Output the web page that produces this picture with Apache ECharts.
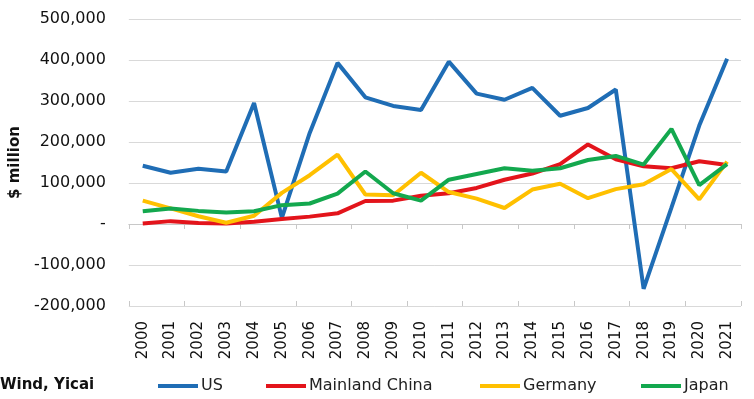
<!DOCTYPE html>
<html>
<head>
<meta charset="utf-8">
<script src="https://cdn.jsdelivr.net/npm/echarts@6/dist/echarts.min.js"></script>
<style>
  html, body { margin: 0; padding: 0; background: #fff; }
  #chart { width: 754px; height: 399px; }
</style>
</head>
<body>
<div id="chart"></div>
<script>
var years = ['2000', '2001', '2002', '2003', '2004', '2005', '2006', '2007', '2008', '2009', '2010',
    '2011', '2012', '2013', '2014', '2015', '2016', '2017', '2018', '2019', '2020', '2021'];

var usData = [142000, 125000, 135000, 128000, 295000, 15000, 222000, 393000, 309000, 288000, 278000,
    396000, 318000, 303000, 332000, 264000, 283000, 328000, -158000, 40000, 240000, 403000];
var chinaData = [1000, 7000, 2500, 1000, 5500, 12000, 18000, 26000, 56000, 57000, 69000,
    75000, 88000, 108000, 123000, 146000, 194000, 158000, 141000, 136000, 153000, 144000];
var germanyData = [57000, 38000, 19000, 3000, 20000, 76000, 119000, 169000, 72000, 70000, 125000,
    78000, 62000, 39000, 84000, 98000, 63000, 85000, 97000, 134000, 60000, 152000];
var japanData = [31000, 38000, 32000, 28000, 31000, 46000, 50000, 74000, 128000, 75000, 57000,
    108000, 122000, 136000, 130000, 136000, 156000, 166000, 145000, 232000, 95000, 146000];

var seriesNames = ['US', 'Mainland China', 'Germany', 'Japan'];
var seriesColors = ['#1f6db5', '#e3141b', '#ffc000', '#13a84e'];

var chart = echarts.init(document.getElementById('chart'));

var FONT = 'DejaVu Sans';

function lineSeries(name, data, color) {
    return {
        name: name,
        type: 'line',
        data: data,
        xAxisIndex: 0,
        symbol: 'none',
        smooth: false,
        lineStyle: { width: 4, color: color },
        itemStyle: { color: color },
        z: 3
    };
}

function legendAt(name, left) {
    return {
        data: [name],
        left: left,
        top: 378,
        icon: 'rect',
        itemWidth: 40,
        itemHeight: 4,
        itemGap: 0,
        padding: 0,
        textStyle: { fontFamily: FONT, fontSize: 16, color: '#222', padding: [0, 0, 0, -2] }
    };
}

// zero line with ticks crossing it (one axis ticks down, one ticks up)
function zeroAxis(inside, showLine) {
    return {
        type: 'category',
        data: years,
        position: 'bottom',
        boundaryGap: true,
        axisLine: { show: showLine, onZero: true, lineStyle: { color: '#c8c8c8', width: 1 } },
        axisTick: { show: true, inside: inside, length: 5, lineStyle: { color: '#c8c8c8' } },
        axisLabel: { show: false },
        splitLine: { show: false }
    };
}

var option = {
    animation: false,
    backgroundColor: '#fff',
    grid: { left: 128, right: 13, top: 19, bottom: 93, containLabel: false },
    graphic: [{
        type: 'text',
        left: 0,
        top: 378,
        style: { text: 'Wind, Yicai', font: 'bold 15px "DejaVu Sans"', fill: '#111' }
    }],
    legend: [
        legendAt('US', 158),
        legendAt('Mainland China', 266),
        legendAt('Germany', 480),
        legendAt('Japan', 641)
    ],
    xAxis: [{
        type: 'category',
        data: years,
        position: 'bottom',
        boundaryGap: true,
        axisLine: { show: false, onZero: false },
        axisTick: { show: false },
        axisLabel: {
            rotate: 90,
            margin: 15,
            fontFamily: FONT,
            fontSize: 15,
            color: '#111'
        },
        splitLine: { show: false }
    }, zeroAxis(false, true), zeroAxis(true, false)],
    yAxis: {
        type: 'value',
        min: -200000,
        max: 500000,
        interval: 100000,
        name: '$ million',
        nameLocation: 'middle',
        nameGap: 103,
        nameRotate: 90,
        nameTextStyle: { fontFamily: FONT, fontSize: 15, fontWeight: 'bold', color: '#111' },
        axisLine: { show: false },
        axisTick: { show: false },
        axisLabel: {
            margin: 23,
            fontFamily: FONT,
            fontSize: 16,
            color: '#111',
            formatter: function (v) {
                return v === 0 ? '-' : v.toLocaleString('en-US');
            }
        },
        splitLine: { lineStyle: { color: '#d9d9d9', width: 1 } }
    },
    series: [
        lineSeries(seriesNames[0], usData, seriesColors[0]),
        lineSeries(seriesNames[1], chinaData, seriesColors[1]),
        lineSeries(seriesNames[2], germanyData, seriesColors[2]),
        lineSeries(seriesNames[3], japanData, seriesColors[3])
    ]
};

chart.setOption(option);

window.onresize = function () {
    chart.resize();
};
</script>
</body>
</html>
